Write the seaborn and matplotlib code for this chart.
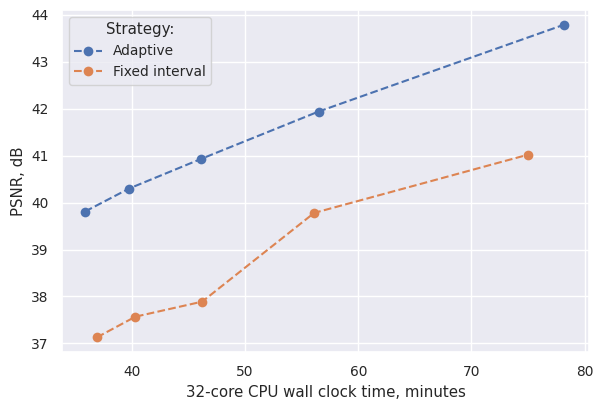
import pandas as pd
import matplotlib.pyplot as plt
import seaborn as sns

sns.set_theme(font_scale=0.9)

# wall clock minutes and PSNR for each strategy
adaptive_time = [35.85, 39.75, 46.1, 56.5, 78.2]
adaptive_psnr = [39.81, 40.30, 40.93, 41.94, 43.79]
fixed_time = [36.9, 40.3, 46.2, 56.1, 75.0]
fixed_psnr = [37.13, 37.57, 37.89, 39.78, 41.02]

df = pd.concat([
    pd.DataFrame({'time': adaptive_time, 'psnr': adaptive_psnr, 'Strategy:': 'Adaptive'}),
    pd.DataFrame({'time': fixed_time, 'psnr': fixed_psnr, 'Strategy:': 'Fixed interval'}),
])

fig, ax = plt.subplots(figsize=(5.95, 4.04), dpi=100)
sns.lineplot(data=df, x='time', y='psnr', hue='Strategy:', marker='o',
             linestyle='--', markersize=7, markeredgewidth=0, ax=ax)
ax.set_xlabel('32-core CPU wall clock time, minutes')
ax.set_ylabel('PSNR, dB')
ax.set_xticks([40, 50, 60, 70, 80])
ax.set_xlim(33.8, 80.4)
ax.set_ylim(36.82, 44.1)
ax.legend(title='Strategy:', loc='upper left')
fig.subplots_adjust(left=0.104, right=0.99, top=0.975, bottom=0.129)
fig.savefig('out.png')
